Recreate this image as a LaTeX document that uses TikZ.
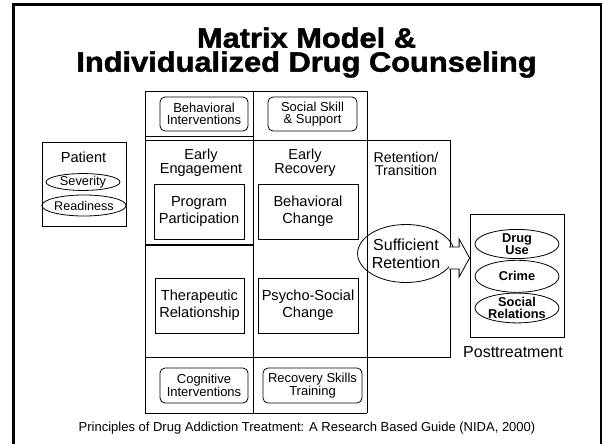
\documentclass[tikz,border=0pt]{standalone}
\usepackage{fontspec}
\setmainfont{Liberation Sans}
\newfontfamily\titlefont[FakeBold=1.5]{Liberation Sans Bold}
\usetikzlibrary{shapes.geometric,calc}
\begin{document}
\begin{tikzpicture}[x=1pt,y=-1pt,
  grid/.style={line width=1pt},
  sqbox/.style={draw,line width=0.8pt,inner sep=0pt,align=center,font=\fontsize{14.6}{17}\selectfont},
  rbox/.style={draw,line width=0.8pt,rounded corners=5pt,inner sep=0pt,align=center,font=\fontsize{13}{11.7}\selectfont},
  colhead/.style={inner sep=0pt,align=center,font=\fontsize{14.5}{12.5}\selectfont},
  oval/.style={draw,ellipse,line width=0.8pt,inner sep=0pt,align=center},
  outcome/.style={oval,minimum width=84pt,font=\bfseries\fontsize{12.8}{11.7}\selectfont},
  titletext/.style={inner sep=0pt,align=center,font=\titlefont\fontsize{28}{24}\selectfont}
]
\useasboundingbox (0,0) rectangle (602,444);
% outer frame
\draw[line width=3pt] (13.5,446) -- (13.5,4.5) -- (601,4.5) -- (601,446);

% title
\node[titletext,anchor=base] (title) at (306.5,71.7) {\scalebox{1.1}[1]{Matrix Model \&}\\\scalebox{1.1}[1]{Individualized Drug Counseling}};

% grid
\draw[grid] (145,91) -- (367,91);
\draw[grid] (145,91) -- (145,413);
\draw[grid] (253,91) -- (253,413);
\draw[grid] (367,91) -- (367,413);
\draw[grid] (145,136) -- (253,136);
\draw[grid] (145,140) -- (450,140) -- (450,357) -- (145,357);
\draw[line width=1.5pt] (145,245) -- (253,245);
\draw[grid] (145,413) -- (367,413);

% top and bottom rounded boxes
\node[rbox,minimum width=88pt,minimum height=34pt] (bi) at (204,114) {Behavioral\\Interventions};
\node[rbox,minimum width=89pt,minimum height=34pt] (ss) at (312.5,114) {Social Skill\\\& Support};
\node[rbox,minimum width=88pt,minimum height=35pt] (ci) at (204,385.5) {Cognitive\\Interventions};
\node[rbox,minimum width=99pt,minimum height=35pt] (rs) at (312.5,385.5) {Recovery Skills\\Training};

% column heads
\node[colhead] (ee) at (201,163) {Early\\Engagement};
\node[colhead] (er) at (305,163) {Early\\Recovery};
\node[colhead,font=\fontsize{14.2}{13}\selectfont] (rt) at (406,164) {Retention/\\Transition};

% square boxes
\node[sqbox,minimum width=90pt,minimum height=55pt] (pp) at (199,211.5) {Program\\Participation};
\node[sqbox,minimum width=100pt,minimum height=55pt] (bc) at (308,211.5) {Behavioral\\Change};
\node[sqbox,minimum width=89pt,minimum height=55pt] (tr) at (199.5,305.5) {Therapeutic\\Relationship};
\node[sqbox,minimum width=100pt,minimum height=55pt] (ps) at (308,305.5) {Psycho-Social\\Change};

% patient
\node[draw,line width=0.8pt,minimum width=84pt,minimum height=84pt] (pat) at (84,184) {};
\node[inner sep=0pt,font=\fontsize{14.6}{14.6}\selectfont] (patl) at (83.5,157) {Patient};
\node[oval,minimum width=74pt,minimum height=16pt,font=\fontsize{12.8}{12.8}\selectfont] (sev) at (83,182) {Severity};
\node[oval,minimum width=75pt,minimum height=21pt,font=\fontsize{12.6}{12.6}\selectfont] (rea) at (84,205.5) {Readiness};

% sufficient retention
\node[oval,minimum width=89pt,minimum height=58pt,font=\fontsize{16}{17.7}\selectfont] (suf) at (406,253.5) {Sufficient\\Retention};

% posttreatment
\node[draw,line width=0.8pt,minimum width=94pt,minimum height=123pt] (post) at (517,275.5) {};
\node[outcome,minimum height=28pt] (du) at (517,244) {Drug\\Use};
\node[outcome,minimum height=32pt] (cr) at (517,276.3) {Crime};
\node[outcome,minimum height=29.5pt] (sr) at (517,308) {Social\\Relations};
\node[inner sep=0pt,font=\fontsize{16}{16}\selectfont] (ptl) at (513,352) {Posttreatment};

% block arrow
\coordinate (tip) at (post.west |- 0,258);
\draw[line width=0.8pt,fill=white]
  (449,247) -- ($(tip)+(-10.5,-11)$) -- ($(tip)+(-10.5,-19)$) -- (tip)
  -- ($(tip)+(-10.5,19)$) -- ($(tip)+(-10.5,11)$) -- (449,269);

% citation
\node[inner sep=0pt,font=\fontsize{13}{13}\selectfont] (cite) at (307,428) {Principles of Drug Addiction Treatment: A Research Based Guide (NIDA, 2000)};
\end{tikzpicture}
\end{document}
